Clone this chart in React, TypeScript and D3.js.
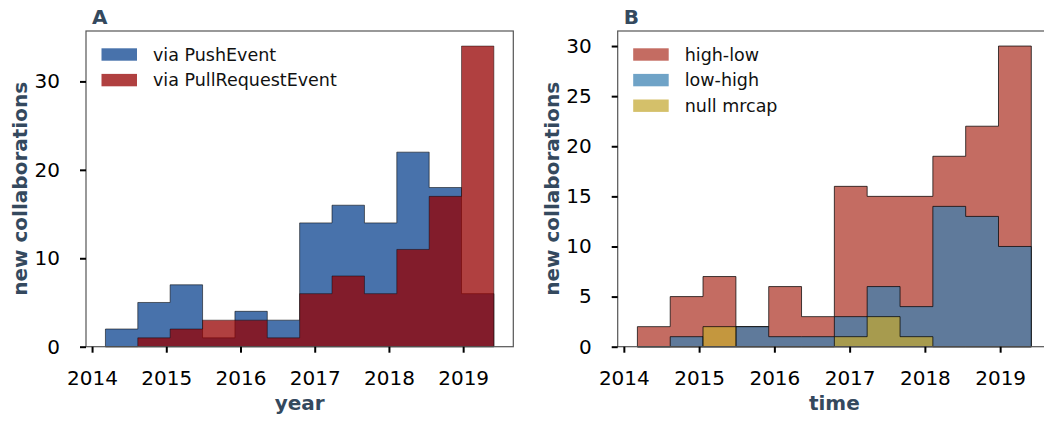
import React, { useEffect, useRef } from 'react';
import * as d3 from 'd3';

// histogram bins (decimal year edges, 12 bins)
const binEdges = [
  2014.18, 2014.616, 2015.052, 2015.489, 2015.925, 2016.361, 2016.797, 2017.233, 2017.67, 2018.106,
  2018.542, 2018.978, 2019.414,
];

// panel A
const pushEvent = [2, 5, 7, 1, 4, 3, 14, 16, 14, 22, 18, 6];
const pullRequestEvent = [0, 1, 2, 3, 3, 1, 6, 8, 6, 11, 17, 34];

// panel B
const highLow = [2, 5, 7, 2, 6, 3, 16, 15, 15, 19, 22, 30];
const lowHigh = [0, 1, 0, 2, 1, 1, 3, 6, 4, 14, 13, 10];
const nullMrcap = [0, 0, 2, 0, 0, 0, 1, 3, 1, 0, 0, 0];

const yearTicks = [2014, 2015, 2016, 2017, 2018, 2019];
const yTicksA = [0, 10, 20, 30];
const yTicksB = [0, 5, 10, 15, 20, 25, 30];

const FONT = 'DejaVu Sans, sans-serif';
const LABEL_COLOR = '#34495e';

interface Series {
  name: string;
  values: number[];
  fill: string;
  opacity: number;
  strokeOpacity: number;
}

interface PanelConfig {
  title: string;
  xlabel: string;
  left: number;
  right: number;
  top: number;
  bottom: number;
  ymax: number;
  yTicks: number[];
  series: Series[];
}

const drawPanel = (svg: d3.Selection<SVGSVGElement, unknown, null, undefined>, cfg: PanelConfig) => {
  const span = binEdges[binEdges.length - 1] - binEdges[0];
  const x = d3
    .scaleLinear()
    .domain([binEdges[0] - 0.05 * span, binEdges[binEdges.length - 1] + 0.05 * span])
    .range([cfg.left, cfg.right]);
  const y = d3.scaleLinear().domain([0, cfg.ymax]).range([cfg.bottom, cfg.top]);

  const g = svg.append('g');

  // histograms (stepfilled)
  const area = d3
    .area<[number, number]>()
    .x((d) => x(d[0]))
    .y0(y(0))
    .y1((d) => y(d[1]))
    .curve(d3.curveStepAfter);

  cfg.series.forEach((s) => {
    const pts: [number, number][] = s.values.map((v, i) => [binEdges[i], v]);
    pts.push([binEdges[binEdges.length - 1], s.values[s.values.length - 1]]);
    g.append('path')
      .datum(pts)
      .attr('d', area)
      .attr('fill', s.fill)
      .attr('fill-opacity', s.opacity)
      .attr('stroke', '#000')
      .attr('stroke-opacity', s.strokeOpacity)
      .attr('stroke-width', 1);
  });

  // spines
  g.append('rect')
    .attr('x', cfg.left)
    .attr('y', cfg.top)
    .attr('width', cfg.right - cfg.left)
    .attr('height', cfg.bottom - cfg.top)
    .attr('fill', 'none')
    .attr('stroke', '#555')
    .attr('stroke-width', 1.2);

  // y axis
  const yAxis = g
    .append('g')
    .attr('transform', `translate(${cfg.left},0)`)
    .call(d3.axisLeft(y).tickValues(cfg.yTicks).tickSize(6).tickPadding(20).tickFormat(d3.format('d')));
  yAxis.select('.domain').remove();
  yAxis.selectAll('.tick line').attr('stroke', '#000').attr('stroke-width', 2);
  yAxis.selectAll('.tick text').attr('font-family', FONT).attr('font-size', 20).attr('fill', '#000');

  // x axis
  const xAxis = g
    .append('g')
    .attr('transform', `translate(0,${cfg.bottom})`)
    .call(d3.axisBottom(x).tickValues(yearTicks).tickSize(6).tickPadding(18).tickFormat(d3.format('d')));
  xAxis.select('.domain').remove();
  xAxis.selectAll('.tick line').attr('stroke', '#000').attr('stroke-width', 2);
  xAxis.selectAll('.tick text').attr('font-family', FONT).attr('font-size', 20).attr('fill', '#000');

  // axis labels
  g.append('text')
    .attr('x', (cfg.left + cfg.right) / 2)
    .attr('y', 410)
    .attr('text-anchor', 'middle')
    .attr('font-family', FONT)
    .attr('font-weight', 'bold')
    .attr('font-size', 20)
    .attr('fill', LABEL_COLOR)
    .text(cfg.xlabel);

  g.append('text')
    .attr('transform', `translate(${cfg.left - 66},${(cfg.top + cfg.bottom) / 2}) rotate(-90)`)
    .attr('text-anchor', 'middle')
    .attr('dominant-baseline', 'central')
    .attr('font-family', FONT)
    .attr('font-weight', 'bold')
    .attr('font-size', 20)
    .attr('fill', LABEL_COLOR)
    .text('new collaborations');

  // panel title
  g.append('text')
    .attr('x', cfg.left + 6)
    .attr('y', 23.5)
    .attr('font-family', FONT)
    .attr('font-weight', 'bold')
    .attr('font-size', 20)
    .attr('fill', LABEL_COLOR)
    .text(cfg.title);

  // legend
  const legend = g.append('g').attr('transform', `translate(${cfg.left + 15.5},48.3)`);
  cfg.series
    .slice()
    .sort((a, b) => legendOrder(a.name) - legendOrder(b.name))
    .forEach((s, i) => {
      legend
        .append('rect')
        .attr('x', 0)
        .attr('y', i * 25.6)
        .attr('width', 35.5)
        .attr('height', 12.4)
        .attr('fill', s.fill)
        .attr('fill-opacity', s.opacity);
      legend
        .append('text')
        .attr('x', 51.5)
        .attr('y', i * 25.6 + 6.2)
        .attr('dominant-baseline', 'central')
        .attr('font-family', FONT)
        .attr('font-size', 17.5)
        .attr('fill', '#111')
        .text(s.name);
    });
};

const legendNames = ['via PushEvent', 'via PullRequestEvent', 'high-low', 'low-high', 'null mrcap'];
const legendOrder = (name: string) => legendNames.indexOf(name);

const App: React.FC = () => {
  const svgRef = useRef<SVGSVGElement | null>(null);

  useEffect(() => {
    if (!svgRef.current) return;
    const svg = d3.select(svgRef.current);
    svg.selectAll('*').remove();

    drawPanel(svg, {
      title: 'A',
      xlabel: 'year',
      left: 86,
      right: 513.3,
      top: 31,
      bottom: 346.7,
      ymax: 35.7,
      yTicks: yTicksA,
      series: [
        { name: 'via PushEvent', values: pushEvent, fill: '#4872ab', opacity: 1, strokeOpacity: 0.55 },
        { name: 'via PullRequestEvent', values: pullRequestEvent, fill: '#960000', opacity: 0.75, strokeOpacity: 0.45 },
      ],
    });

    drawPanel(svg, {
      title: 'B',
      xlabel: 'time',
      left: 617.7,
      right: 1051,
      top: 31,
      bottom: 346.7,
      ymax: 31.5,
      yTicks: yTicksB,
      series: [
        { name: 'high-low', values: highLow, fill: '#c46c62', opacity: 1, strokeOpacity: 0.72 },
        { name: 'low-high', values: lowHigh, fill: '#377fb1', opacity: 0.72, strokeOpacity: 0.72 },
        { name: 'null mrcap', values: nullMrcap, fill: '#c3a730', opacity: 0.72, strokeOpacity: 0.72 },
      ],
    });
  }, []);

  return (
    <svg
      ref={svgRef}
      width={1044}
      height={421}
      style={{ position: 'absolute', left: 0, top: 0, background: '#fff' }}
    />
  );
};

export default App;
